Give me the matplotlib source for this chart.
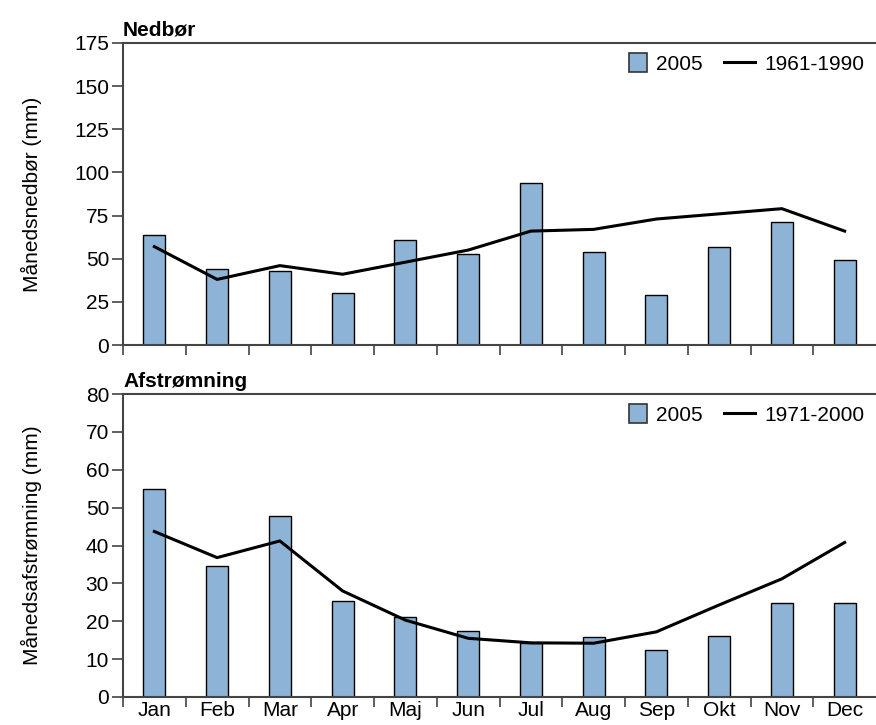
import matplotlib.pyplot as plt
import matplotlib.patches as mpatches
from matplotlib.legend_handler import HandlerPatch
import numpy as np

plt.rcParams["font.family"] = ["Liberation Sans", "DejaVu Sans"]

months = ["Jan", "Feb", "Mar", "Apr", "Maj", "Jun", "Jul", "Aug", "Sep", "Okt", "Nov", "Dec"]

# Nedbør (mm)
precip_2005 = [64, 44, 43, 30, 61, 53, 94, 54, 29, 57, 71, 49]
precip_normal = [57, 38, 46, 41, 48, 55, 66, 67, 73, 76, 79, 66]

# Afstrømning (mm)
runoff_2005 = [55, 34.5, 47.8, 25.3, 21, 17.5, 14.2, 15.8, 12.4, 16, 24.8, 24.7]
runoff_normal = [43.7, 36.8, 41.2, 28, 20.3, 15.5, 14.3, 14.2, 17.2, 24.3, 31.2, 40.8]

bar_color = "#8db4d6"
spine_color = "#444444"
fs = 15

W, H = 876, 725
fig = plt.figure(figsize=(W / 100, H / 100), dpi=100)

left = 123 / W
width = 1 - left
ax1 = fig.add_axes([left, 1 - 345 / H, width, (345 - 43) / H])
ax2 = fig.add_axes([left, 1 - 697 / H, width, (697 - 394) / H])

x = np.arange(len(months))


def square_patch(legend, orig_handle, xdescent, ydescent, width, height, fontsize):
    # small square pushed against the label text
    side = height * 1.15
    return mpatches.Rectangle((-xdescent + width - side, -ydescent + (height - side) / 2),
                              side, side)


def draw_panel(ax, bars, line, line_label, ymax, ystep, title, ylabel, show_months):
    ax.bar(x, bars, width=0.35, color=bar_color, edgecolor="black", linewidth=1,
           label="2005", zorder=2)
    (ln,) = ax.plot(x, line, color="black", linewidth=2.2, label=line_label, zorder=3)

    ax.set_xlim(-0.5, 11.5)
    ax.set_ylim(0, ymax)
    ax.set_yticks(np.arange(0, ymax + 1, ystep))

    for s in ["left", "bottom", "top"]:
        ax.spines[s].set_color(spine_color)
        ax.spines[s].set_linewidth(1.5)
    ax.spines["right"].set_visible(False)

    ax.tick_params(axis="y", direction="out", length=8, width=1.2, color=spine_color,
                   labelsize=fs, pad=2)
    # month boundaries get the tick marks, labels sit in the middle
    ax.set_xticks(np.arange(-0.5, 11.5, 1), minor=True)
    ax.tick_params(axis="x", which="minor", direction="out", length=7, width=1.2,
                   color=spine_color)
    ax.set_xticks(x)
    if show_months:
        ax.set_xticklabels(months)
    else:
        ax.set_xticklabels([])
    ax.tick_params(axis="x", which="major", length=0, labelsize=fs, pad=3)

    ax.text(0, 1.01, title, transform=ax.transAxes, fontsize=fs, fontweight="bold",
            ha="left", va="bottom")
    ax.set_ylabel(ylabel, fontsize=fs)
    ax.yaxis.set_label_coords((42 - 123) / 753, 0.5)

    bar_handle = mpatches.Patch(facecolor=bar_color, edgecolor="#333333", linewidth=1.2)
    ax.legend([bar_handle, ln], ["2005", line_label], loc="upper right",
              bbox_to_anchor=(1.0, 1.0), frameon=False, ncol=2, fontsize=fs,
              handlelength=1.5, handleheight=0.8, columnspacing=1.0,
              handletextpad=0.45, borderaxespad=0.15,
              handler_map={mpatches.Patch: HandlerPatch(patch_func=square_patch)})


draw_panel(ax1, precip_2005, precip_normal, "1961-1990", 175, 25,
           "Nedbør", "Månedsnedbør (mm)", False)
draw_panel(ax2, runoff_2005, runoff_normal, "1971-2000", 80, 10,
           "Afstrømning", "Månedsafstrømning (mm)", True)

fig.savefig("out.png", dpi=100)
